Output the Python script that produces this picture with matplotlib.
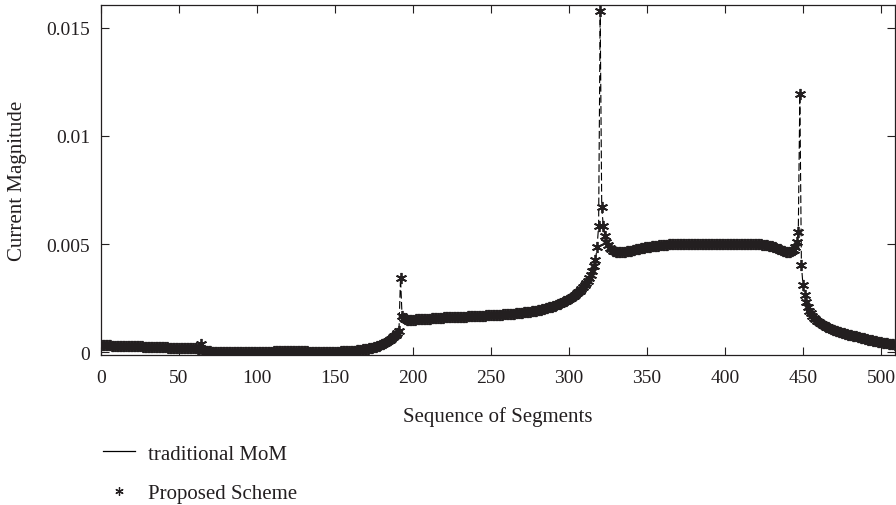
import numpy as np
import matplotlib
matplotlib.use('Agg')
import matplotlib.pyplot as plt
from matplotlib.lines import Line2D

plt.rcParams['font.family'] = ['Liberation Serif', 'DejaVu Serif']

# current magnitude per segment (units of 1e-4)
traditional_mom = [
    3.3, 3.3, 3.3, 3.2, 3.2, 3.2, 3.2, 3.1, 3.1, 3.1,
    3.1, 3.0, 3.0, 3.0, 3.0, 2.9, 2.9, 2.9, 2.9, 2.8,
    2.8, 2.8, 2.8, 2.7, 2.7, 2.7, 2.7, 2.6, 2.6, 2.6,
    2.6, 2.5, 2.5, 2.5, 2.5, 2.4, 2.4, 2.4, 2.4, 2.3,
    2.3, 2.3, 2.3, 2.2, 2.2, 2.2, 2.2, 2.1, 2.1, 2.1,
    2.1, 2.0, 2.0, 2.0, 2.0, 1.9, 1.9, 1.9, 1.9, 1.8,
    1.8, 1.8, 1.7, 1.6, 3.6, 1.2, 0.9, 0.7, 0.6, 0.5,
    0.4, 0.35, 0.3, 0.25, 0.2, 0.2, 0.15, 0.1, 0.1, 0.05,
    0.05, 0.0, 0.0, 0.0, 0.0, 0.0, 0.0, 0.0, 0.05, 0.05,
    0.1, 0.1, 0.1, 0.15, 0.15, 0.2, 0.2, 0.2, 0.25, 0.25,
    0.25, 0.3, 0.3, 0.3, 0.3, 0.3, 0.35, 0.35, 0.35, 0.35,
    0.35, 0.4, 0.4, 0.4, 0.4, 0.4, 0.4, 0.4, 0.4, 0.4,
    0.4, 0.4, 0.4, 0.4, 0.4, 0.4, 0.4, 0.4, 0.4, 0.4,
    0.4, 0.4, 0.4, 0.35, 0.35, 0.35, 0.35, 0.35, 0.3, 0.3,
    0.3, 0.3, 0.3, 0.3, 0.3, 0.3, 0.3, 0.3, 0.3, 0.3,
    0.3, 0.3, 0.35, 0.35, 0.4, 0.4, 0.45, 0.5, 0.55, 0.6,
    0.65, 0.7, 0.75, 0.8, 0.9, 1.0, 1.1, 1.2, 1.3, 1.4,
    1.5, 1.65, 1.8, 1.95, 2.1, 2.3, 2.5, 2.7, 3.0, 3.3,
    3.6, 4.0, 4.4, 4.8, 5.3, 5.8, 6.3, 6.9, 7.5, 8.2,
    8.9, 9.7, 34.5, 16.7, 15.8, 15.3, 15.0, 14.8, 14.8, 14.9,
    15.0, 15.1, 15.2, 15.2, 15.3, 15.3, 15.4, 15.4, 15.5, 15.5,
    15.6, 15.6, 15.7, 15.7, 15.8, 15.8, 15.9, 15.9, 16.0, 16.0,
    16.1, 16.1, 16.1, 16.2, 16.2, 16.2, 16.3, 16.3, 16.3, 16.4,
    16.4, 16.4, 16.5, 16.5, 16.5, 16.6, 16.6, 16.6, 16.7, 16.7,
    16.7, 16.8, 16.8, 16.8, 16.9, 16.9, 16.9, 17.0, 17.0, 17.0,
    17.1, 17.1, 17.2, 17.2, 17.3, 17.3, 17.4, 17.4, 17.5, 17.5,
    17.6, 17.6, 17.7, 17.8, 17.8, 17.9, 18.0, 18.0, 18.1, 18.2,
    18.3, 18.4, 18.5, 18.6, 18.7, 18.8, 18.9, 19.0, 19.1, 19.2,
    19.4, 19.5, 19.7, 19.9, 20.1, 20.3, 20.5, 20.7, 20.9, 21.1,
    21.4, 21.6, 21.9, 22.2, 22.5, 22.8, 23.1, 23.5, 23.9, 24.3,
    24.7, 25.1, 25.6, 26.1, 26.6, 27.2, 27.8, 28.5, 29.3, 30.1,
    31.0, 32.0, 33.1, 34.4, 35.8, 37.5, 40.0, 42.5, 48.6, 58.3,
    157.5, 67.0, 58.3, 53.7, 51.0, 49.4, 48.3, 47.5, 47.0, 46.6,
    46.4, 46.2, 46.1, 46.1, 46.2, 46.3, 46.4, 46.6, 46.7, 46.9,
    47.0, 47.2, 47.4, 47.5, 47.7, 47.8, 48.0, 48.1, 48.3, 48.4,
    48.5, 48.7, 48.8, 48.9, 49.0, 49.1, 49.2, 49.3, 49.4, 49.5,
    49.5, 49.6, 49.7, 49.7, 49.8, 49.8, 49.9, 49.9, 50.0, 50.0,
    50.0, 50.0, 50.1, 50.1, 50.1, 50.1, 50.1, 50.1, 50.1, 50.1,
    50.1, 50.0, 50.0, 50.0, 50.0, 50.0, 49.9, 49.9, 49.9, 49.9,
    49.9, 49.9, 49.8, 49.8, 49.8, 49.8, 49.8, 49.8, 49.8, 49.8,
    49.8, 49.8, 49.8, 49.8, 49.8, 49.9, 49.9, 49.9, 49.9, 49.9,
    50.0, 50.0, 50.0, 50.0, 50.0, 50.0, 50.0, 50.0, 50.0, 49.9,
    49.9, 49.9, 49.8, 49.8, 49.7, 49.6, 49.5, 49.4, 49.3, 49.1,
    48.9, 48.7, 48.5, 48.2, 47.9, 47.6, 47.3, 47.0, 46.7, 46.4,
    46.2, 46.1, 46.2, 46.6, 47.4, 48.8, 50.8, 55.4, 119.2, 40.3,
    31.1, 26.5, 23.4, 21.0, 19.3, 18.0, 16.9, 16.0, 15.2, 14.5,
    13.9, 13.4, 12.9, 12.5, 12.1, 11.8, 11.5, 11.1, 10.8, 10.5,
    10.2, 10.0, 9.7, 9.5, 9.2, 9.0, 8.8, 8.6, 8.4, 8.2,
    8.0, 7.8, 7.7, 7.5, 7.3, 7.2, 7.0, 6.8, 6.6, 6.4,
    6.2, 6.0, 5.8, 5.6, 5.5, 5.3, 5.2, 5.0, 4.9, 4.7,
    4.6, 4.5, 4.4, 4.2, 4.1, 4.0, 3.9, 3.8, 3.6, 3.5,
]
# the proposed scheme sits right on top of the MoM solution
proposed_scheme = list(traditional_mom)

segments = np.arange(len(traditional_mom))
mom = np.array(traditional_mom) * 1e-4
proposed = np.array(proposed_scheme) * 1e-4

x_ticks = [0, 50, 100, 150, 200, 250, 300, 350, 400, 450, 500]
y_ticks = [0, 0.005, 0.01, 0.015]
y_tick_labels = ['0', '0.005', '0.01', '0.015']

ink = '#231f20'

fig = plt.figure(figsize=(8.96, 5.06), dpi=100)
ax = fig.add_axes([101 / 896, 1 - 356 / 506, 794 / 896, 350 / 506])

ax.plot(segments, mom, color='k', lw=0.8, linestyle=(0, (7, 3)))
ax.plot(segments, proposed, linestyle='none', marker=(6, 2, 0),
        markersize=8, markeredgewidth=1.3, color=ink)

ax.set_xlim(0, 509)
ax.set_ylim(-0.000125, 0.01604)
ax.set_xticks(x_ticks)
ax.set_yticks(y_ticks)
ax.set_yticklabels(y_tick_labels)
ax.tick_params(direction='in', top=True, right=True, length=6, width=0.8,
               labelsize=14, colors=ink)
ax.tick_params(axis='x', pad=10)
ax.tick_params(axis='y', pad=8)
for s in ax.spines.values():
    s.set_linewidth(0.9)
    s.set_color(ink)

ax.set_xlabel('Sequence of Segments', fontsize=15, color=ink)
ax.set_ylabel('Current Magnitude', fontsize=15, color=ink)
ax.xaxis.set_label_coords(0.5, -0.145)
ax.yaxis.set_label_coords(-0.093, 0.5)

handles = [
    Line2D([], [], color='k', lw=0.9),
    Line2D([], [], linestyle='none', marker=(6, 2, 0), markersize=6,
           markeredgewidth=0.9, color=ink),
]
fig.legend(handles, ['traditional MoM', 'Proposed Scheme'], loc='upper left',
           bbox_to_anchor=(103 / 896, 1 - 445 / 506), frameon=False,
           fontsize=15, borderpad=0, borderaxespad=0, handlelength=1.55,
           handletextpad=0.6, labelspacing=0.95, labelcolor=ink)

fig.savefig('out.png', dpi=100)
